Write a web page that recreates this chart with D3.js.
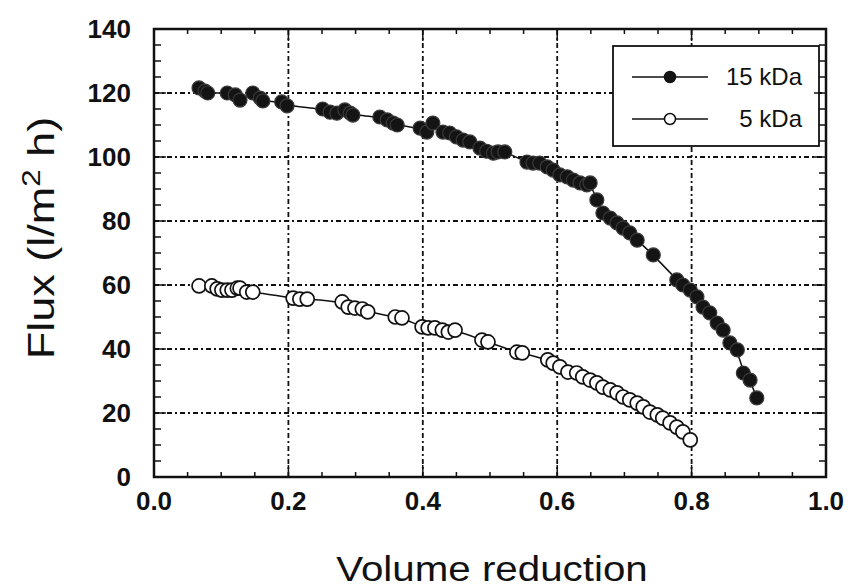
<!DOCTYPE html>
<html>
<head>
<meta charset="utf-8">
<script src="https://cdn.jsdelivr.net/npm/d3@7"></script>
<style>
  body { margin: 0; background: #fff; }
  svg { display: block; }
  .tick-label { font-family: "Liberation Sans", Arial, sans-serif; font-weight: bold; font-size: 26px; fill: #111; }
  .title { font-family: "Liberation Sans", Arial, sans-serif; font-size: 36px; fill: #111; }
  .legend-text { font-family: "Liberation Sans", Arial, sans-serif; font-size: 24px; fill: #111; }
</style>
</head>
<body>
<div id="chart"></div>
<script>
// 15 kDa membrane
var vr15 = [0.067,0.076,0.080,0.109,0.121,0.128,0.147,0.158,0.162,0.190,0.198,
            0.251,0.262,0.272,0.284,0.292,0.296,0.336,0.347,0.356,0.362,
            0.396,0.406,0.415,0.430,0.440,0.450,0.460,0.470,0.485,0.495,0.505,0.512,0.522,
            0.555,0.564,0.574,0.585,0.594,0.604,0.615,0.624,0.634,0.644,0.649,
            0.659,0.668,0.679,0.689,0.698,0.708,0.719,0.743,
            0.778,0.787,0.798,0.808,0.817,0.827,0.838,0.847,0.857,0.868,0.877,0.887,0.897];
var flux15 = [121.6,120.6,120.0,120.0,119.4,117.8,120.0,118.4,117.5,117.2,116.0,
              115.0,114.0,113.7,114.7,113.7,113.1,112.5,111.6,110.6,110.0,
              109.0,107.8,110.6,107.8,107.5,106.3,105.3,104.7,102.8,101.8,101.2,101.6,101.6,
              98.4,98.1,98.1,96.9,95.9,94.4,93.8,92.8,91.9,91.3,91.9,
              86.6,82.5,80.9,79.4,77.8,76.3,74.0,69.4,
              61.6,60.0,58.4,56.3,53.1,51.3,48.1,45.9,41.9,39.7,32.5,30.3,24.7];

// 5 kDa membrane
var vr5 = [0.067,0.086,0.094,0.101,0.109,0.116,0.124,0.128,0.138,0.147,
           0.207,0.217,0.228,0.280,0.289,0.299,0.310,0.318,0.359,0.369,
           0.399,0.408,0.418,0.429,0.438,0.448,0.488,0.497,0.540,0.548,
           0.586,0.594,0.604,0.616,0.629,0.638,0.649,0.659,0.668,0.679,0.689,
           0.698,0.708,0.719,0.728,0.738,0.749,0.757,0.768,0.778,0.787,0.798];
var flux5 = [59.7,59.7,58.8,58.4,58.4,58.4,59.0,59.0,57.8,57.8,
             55.9,55.6,55.6,54.7,53.1,52.8,52.5,51.6,50.0,49.7,
             46.9,46.6,46.6,45.9,45.3,45.9,42.8,42.2,39.0,38.8,
             36.6,35.6,34.4,32.8,32.5,31.3,30.3,29.4,28.1,27.2,26.3,
             25.0,24.1,23.1,21.9,20.3,19.4,18.4,16.9,15.6,14.1,11.6];

var xTicks = [0.0, 0.2, 0.4, 0.6, 0.8, 1.0];
var yTicks = [0, 20, 40, 60, 80, 100, 120, 140];
var legendLabels = ["15 kDa", "5 kDa"];

var width = 851, height = 588;
var margin = {left: 154, right: 25, top: 29, bottom: 111};

var svg = d3.select("#chart").append("svg")
    .attr("width", width)
    .attr("height", height);

var x = d3.scaleLinear().domain([0, 1]).range([margin.left, width - margin.right]);
var y = d3.scaleLinear().domain([0, 140]).range([height - margin.bottom, margin.top]);

var x0 = x(0), x1 = x(1), y0 = y(0), y1 = y(140);

// grid
var grid = svg.append("g").attr("stroke", "#111").attr("stroke-width", 1.8)
    .attr("stroke-dasharray", "5,3,2,3");
grid.selectAll("line.v").data(xTicks.slice(1, -1)).enter().append("line")
    .attr("x1", function(d) { return x(d); }).attr("x2", function(d) { return x(d); })
    .attr("y1", y0).attr("y2", y1);
grid.selectAll("line.h").data(yTicks.slice(1, -1)).enter().append("line")
    .attr("class", "h")
    .attr("y1", function(d) { return y(d); }).attr("y2", function(d) { return y(d); })
    .attr("x1", x0).attr("x2", x1);

// legend box (covers grid)
var lg = svg.append("g");
lg.append("rect")
    .attr("x", 613).attr("y", 46).attr("width", 206).attr("height", 100)
    .attr("fill", "#fff").attr("stroke", "#111").attr("stroke-width", 1.8);

// curves
var line = d3.line()
    .x(function(d) { return x(d[0]); })
    .y(function(d) { return y(d[1]); })
    .curve(d3.curveBasis);

var pts15 = d3.zip(vr15, flux15);
var pts5 = d3.zip(vr5, flux5);

svg.append("path").datum(pts15).attr("d", line)
    .attr("fill", "none").attr("stroke", "#111").attr("stroke-width", 1.5);
svg.append("path").datum(pts5).attr("d", line)
    .attr("fill", "none").attr("stroke", "#111").attr("stroke-width", 1.5);

svg.append("g").selectAll("circle").data(pts5).enter().append("circle")
    .attr("cx", function(d) { return x(d[0]); })
    .attr("cy", function(d) { return y(d[1]); })
    .attr("r", 7)
    .attr("fill", "#fff").attr("stroke", "#111").attr("stroke-width", 1.7);

svg.append("g").selectAll("circle").data(pts15).enter().append("circle")
    .attr("cx", function(d) { return x(d[0]); })
    .attr("cy", function(d) { return y(d[1]); })
    .attr("r", 7)
    .attr("fill", "#141414").attr("stroke", "#3a3a3a").attr("stroke-width", 1.2);

// legend entries
var legRows = lg.selectAll("g.row").data(legendLabels).enter().append("g")
    .attr("transform", function(d, i) { return "translate(0," + (77 + i * 42) + ")"; });
legRows.append("line").attr("x1", 632).attr("x2", 708).attr("y1", 0).attr("y2", 0)
    .attr("stroke", "#111").attr("stroke-width", 1.5);
legRows.append("circle").attr("cx", 670).attr("cy", 0).attr("r", 5.5)
    .attr("fill", function(d, i) { return i == 0 ? "#141414" : "#fff"; })
    .attr("stroke", "#111").attr("stroke-width", 1.5);
legRows.append("text").attr("class", "legend-text")
    .attr("x", 802).attr("y", 8).attr("text-anchor", "end")
    .text(function(d) { return d; });

// ticks (inside, on all four sides)
var ticks = svg.append("g").attr("stroke", "#111").attr("stroke-width", 1.5);
var xMinor = d3.range(0, 1.0001, 0.05);
var yMinor = d3.range(0, 140.001, 5);
xMinor.forEach(function(v) {
  var major = Math.abs(v * 5 - Math.round(v * 5)) < 1e-6;
  var len = major ? 12 : 5;
  ticks.append("line").attr("x1", x(v)).attr("x2", x(v)).attr("y1", y0).attr("y2", y0 - len);
  ticks.append("line").attr("x1", x(v)).attr("x2", x(v)).attr("y1", y1).attr("y2", y1 + len);
});
yMinor.forEach(function(v) {
  var major = v % 20 == 0;
  var len = major ? 12 : 7;
  ticks.append("line").attr("y1", y(v)).attr("y2", y(v)).attr("x1", x0).attr("x2", x0 + len);
  ticks.append("line").attr("y1", y(v)).attr("y2", y(v)).attr("x1", x1).attr("x2", x1 - len);
});

// frame
svg.append("rect").attr("x", x0).attr("y", y1).attr("width", x1 - x0).attr("height", y0 - y1)
    .attr("fill", "none").attr("stroke", "#111").attr("stroke-width", 2.5);

// tick labels
svg.append("g").selectAll("text").data(xTicks).enter().append("text")
    .attr("class", "tick-label")
    .attr("x", function(d) { return x(d); }).attr("y", 510)
    .attr("text-anchor", "middle")
    .text(function(d) { return d3.format(".1f")(d); });
svg.append("g").selectAll("text").data(yTicks).enter().append("text")
    .attr("class", "tick-label")
    .attr("x", 131).attr("y", function(d) { return y(d) + 9; })
    .attr("text-anchor", "end")
    .text(function(d) { return d; });

// axis titles (the source figure is stretched along the text direction)
svg.append("text").attr("class", "title")
    .attr("transform", "translate(492,581) scale(1.12,1)")
    .attr("text-anchor", "middle")
    .text("Volume reduction");

var yt = svg.append("text").attr("class", "title")
    .attr("transform", "translate(54,238) rotate(-90) scale(1.25,1)")
    .attr("text-anchor", "middle");
yt.append("tspan").text("Flux (l/m");
yt.append("tspan").attr("dy", -14).style("font-size", "25px").text("2");
yt.append("tspan").attr("dy", 14).text(" h)");
</script>
</body>
</html>
